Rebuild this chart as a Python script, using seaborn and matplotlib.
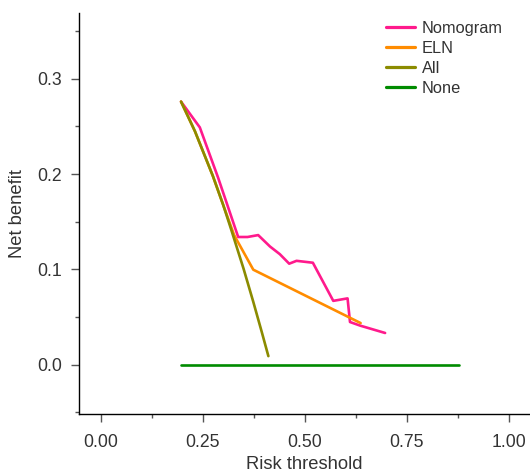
import matplotlib
matplotlib.use("Agg")
import matplotlib.pyplot as plt
from matplotlib.ticker import MultipleLocator, FormatStrFormatter
import pandas as pd
import seaborn as sns

# Decision-curve values (risk threshold vs. net benefit)
nomogram_x = [0.197, 0.243, 0.288, 0.337, 0.360, 0.386, 0.415, 0.439, 0.462,
              0.480, 0.520, 0.570, 0.605, 0.611, 0.636, 0.697]
nomogram_y = [0.276, 0.249, 0.196, 0.134, 0.134, 0.136, 0.124, 0.116, 0.106,
              0.109, 0.107, 0.067, 0.0696, 0.0448, 0.041, 0.0333]

eln_x = [0.197, 0.231, 0.275, 0.300, 0.327, 0.374, 0.637]
eln_y = [0.276, 0.245, 0.198, 0.168, 0.136, 0.0997, 0.0437]

all_x = [0.197, 0.231, 0.275, 0.300, 0.319, 0.350, 0.374, 0.395, 0.411]
all_y = [0.276, 0.245, 0.198, 0.168, 0.143, 0.101, 0.066, 0.034, 0.009]

none_x = [0.197, 0.878]
none_y = [0.0, 0.0]

series_names = ["Nomogram", "ELN", "All", "None"]
series_colors = ["#FF1A8C", "#FF8C00", "#8B8B00", "#008B00"]

frames = []
for name, xs, ys in zip(series_names,
                        [nomogram_x, eln_x, all_x, none_x],
                        [nomogram_y, eln_y, all_y, none_y]):
    frames.append(pd.DataFrame({"threshold": xs, "benefit": ys, "model": name}))
df = pd.concat(frames, ignore_index=True)

sns.set_theme(style="ticks")
plt.rcParams["font.family"] = ["Liberation Sans", "DejaVu Sans"]

fig = plt.figure(figsize=(5.30, 4.73), dpi=100)
ax = fig.add_axes([79 / 530, 59 / 473, 451 / 530, 401 / 473])

sns.lineplot(data=df, x="threshold", y="benefit", hue="model",
             hue_order=series_names, palette=series_colors,
             estimator=None, sort=False, linewidth=1.9, ax=ax)

ax.set_xlim(-0.053, 1.052)
ax.set_ylim(-0.0517, 0.369)
ax.xaxis.set_major_locator(MultipleLocator(0.25))
ax.xaxis.set_minor_locator(MultipleLocator(0.125))
ax.yaxis.set_major_locator(MultipleLocator(0.1))
ax.yaxis.set_minor_locator(MultipleLocator(0.05))
ax.xaxis.set_major_formatter(FormatStrFormatter("%.2f"))
ax.yaxis.set_major_formatter(FormatStrFormatter("%.1f"))

for side in ["top", "right"]:
    ax.spines[side].set_visible(False)
for side in ["left", "bottom"]:
    ax.spines[side].set_color("black")
    ax.spines[side].set_linewidth(1.0)

ax.tick_params(which="major", length=6, width=1.0, color="#555555",
               labelsize=12.7, labelcolor="#333333")
ax.tick_params(axis="x", which="major", pad=8.5)
ax.tick_params(axis="y", which="major", pad=6.5)
ax.tick_params(which="minor", length=3, width=1.0, color="#555555")

ax.set_xlabel("Risk threshold", fontsize=13.2, color="#333333", labelpad=3.5)
ax.set_ylabel("Net benefit", fontsize=13.2, color="#333333", labelpad=8)

leg = ax.legend(loc="upper left", bbox_to_anchor=(386 / 530, 1 - 21 / 473),
                bbox_transform=fig.transFigure, frameon=False, fontsize=11.8,
                handlelength=1.75, handletextpad=0.45, labelspacing=0.3,
                borderpad=0, borderaxespad=0)
for h in leg.get_lines():
    h.set_linewidth(2.3)
for t in leg.get_texts():
    t.set_color("#333333")

fig.savefig("out.png", dpi=100)
